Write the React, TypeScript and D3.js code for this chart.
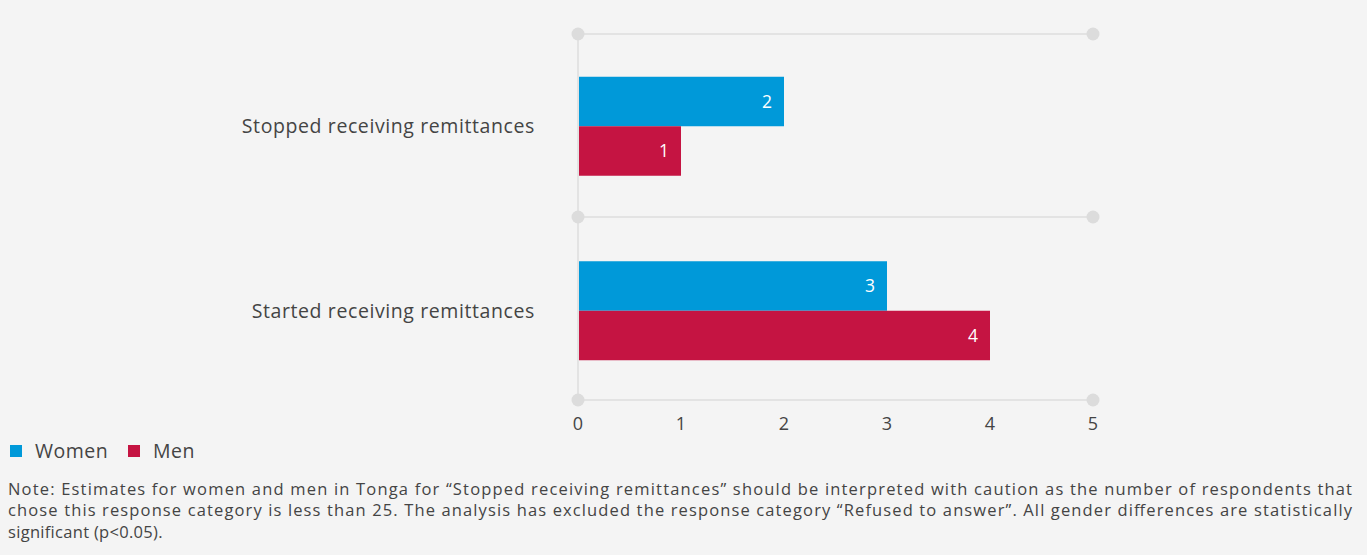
import React, { useEffect, useRef } from "react";
import * as d3 from "d3";

const categories = ["Stopped receiving remittances", "Started receiving remittances"];
const seriesNames = ["Women", "Men"];
const women = [2, 3];
const men = [1, 4];
const xTicks = [0, 1, 2, 3, 4, 5];
const seriesColors = ["#0099d9", "#c51442"];
const noteLines = [
  "Note: Estimates for women and men in Tonga for \u201cStopped receiving remittances\u201d should be interpreted with caution as the number of respondents that",
  "chose this response category is less than 25. The analysis has excluded the response category \u201cRefused to answer\u201d. All gender differences are statistically",
  "significant (p<0.05).",
];

const W = 1367;
const H = 555;
const FONT = "'Open Sans', sans-serif";
const TXT = "#444";

export default function App() {
  const ref = useRef<SVGSVGElement>(null);

  useEffect(() => {
    document.body.style.margin = "0";
    document.body.style.background = "#f4f4f4";
    const svg = d3.select(ref.current);
    svg.selectAll("*").remove();

    const left = 578, right = 1093, top = 34, bottom = 400;
    const x = d3.scaleLinear().domain([0, 5]).range([left, right]);
    // grid boundaries scale
    const grid = d3.scaleLinear().domain([0, categories.length]).range([top, bottom]);
    // bar placement scale
    const y = d3.scaleBand<string>().domain(categories).range([top, bottom + 3]);
    const inner = d3.scaleBand<string>().domain(seriesNames).range([0, y.bandwidth()]).paddingInner(0).paddingOuter(0.864);

    svg.append("rect").attr("width", W).attr("height", H).attr("fill", "#f4f4f4");

    const g = svg.append("g");
    const boundaries = d3.range(categories.length + 1).map((i) => grid(i));
    boundaries.forEach((b) => {
      g.append("line").attr("x1", left).attr("x2", right).attr("y1", b).attr("y2", b)
        .attr("stroke", "#dedede").attr("stroke-width", 1.5);
    });
    g.append("line").attr("x1", left).attr("x2", left).attr("y1", top).attr("y2", bottom)
      .attr("stroke", "#dedede").attr("stroke-width", 1.5);
    boundaries.forEach((b) => {
      [left, right].forEach((px) => {
        g.append("circle").attr("cx", px).attr("cy", b).attr("r", 6.5).attr("fill", "#dcdcdc");
      });
    });

    const data = [women, men];
    categories.forEach((c, ci) => {
      seriesNames.forEach((s, si) => {
        const v = data[si][ci];
        const by = (y(c) as number) + (inner(s) as number);
        g.append("rect").attr("x", x(0) + 1).attr("y", by).attr("width", x(v) - x(0) - 1)
          .attr("height", inner.bandwidth()).attr("fill", seriesColors[si]);
        g.append("text").attr("x", x(v) - 12).attr("y", by + inner.bandwidth() / 2)
          .attr("dy", "0.35em").attr("text-anchor", "end").attr("fill", "#fff")
          .attr("font-family", FONT).attr("font-size", 17.5).text(String(v));
      });
      g.append("text").attr("x", 535).attr("y", (y(c) as number) + y.bandwidth() / 2)
        .attr("dy", "0.35em").attr("text-anchor", "end").attr("fill", TXT)
        .attr("font-family", FONT).attr("font-size", 19.5).attr("letter-spacing", 0.6).text(c);
    });

    xTicks.forEach((t) => {
      g.append("text").attr("x", x(t)).attr("y", 424).attr("dy", "0.35em")
        .attr("text-anchor", "middle").attr("fill", TXT)
        .attr("font-family", FONT).attr("font-size", 18).text(String(t));
    });

    const lg = svg.append("g");
    const legendX = [10, 128];
    seriesNames.forEach((s, i) => {
      lg.append("rect").attr("x", legendX[i]).attr("y", 445).attr("width", 12).attr("height", 12)
        .attr("fill", seriesColors[i]);
      lg.append("text").attr("x", legendX[i] + 25).attr("y", 451).attr("dy", "0.35em")
        .attr("fill", TXT).attr("font-family", FONT).attr("font-size", 19.5).attr("letter-spacing", 0.5).text(s);
    });

    const noteWidths = [1344, 1344, 0];
    noteLines.forEach((l, i) => {
      const t = svg.append("text").attr("x", 8).attr("y", 489 + i * 21.5).attr("dy", "0.35em")
        .attr("fill", TXT).attr("font-family", FONT).attr("font-size", 16.5).text(l);
      if (noteWidths[i]) t.attr("textLength", noteWidths[i]).attr("lengthAdjust", "spacing");
      else t.attr("letter-spacing", 0.3);
    });
  }, []);

  return <svg ref={ref} width={W} height={H} style={{ display: "block" }} />;
}
